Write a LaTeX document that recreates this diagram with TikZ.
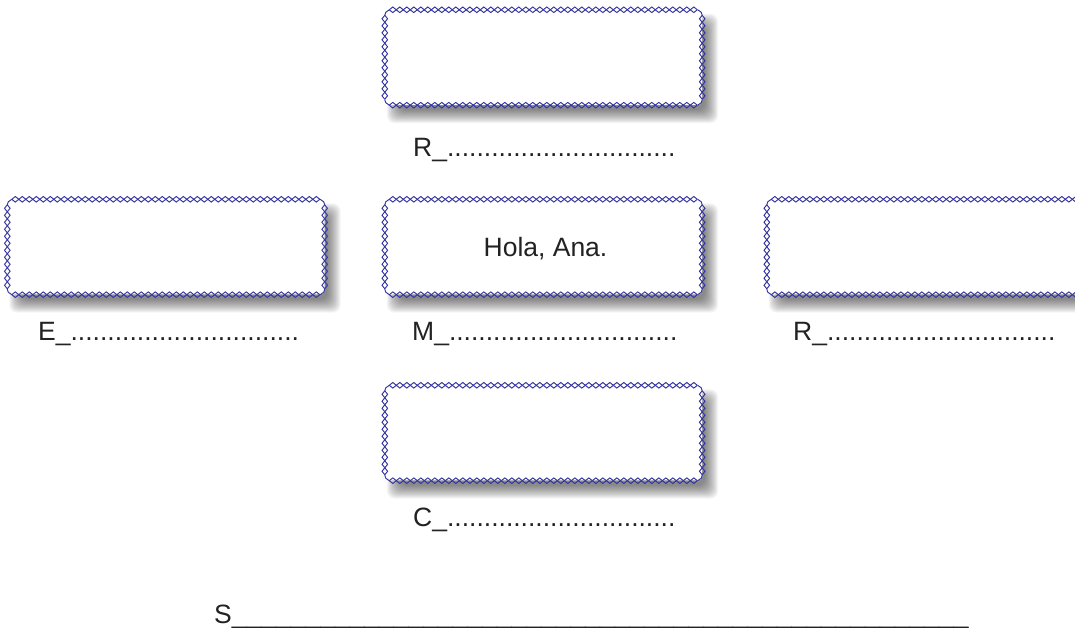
\documentclass[tikz,border=0pt]{standalone}
\usepackage{fontspec}
\setmainfont{Liberation Sans}
\definecolor{bordercol}{HTML}{3535A0}
\definecolor{txtcol}{HTML}{222222}
\pgfdeclarelayer{bg}
\pgfsetlayers{bg,main}
\tikzset{
  card/.style={rectangle, rounded corners=4pt, minimum width=317pt, minimum height=95pt,
    inner sep=0pt, fill=white},
  frame/.style={draw=bordercol, line width=0.95pt},
  shadowlayer/.style={black, opacity=0.045, rounded corners=8pt},
  lbl/.style={inner sep=0pt, anchor=base west, text=txtcol, font=\fontsize{26.5}{30}\selectfont},
}
\newcommand{\dotrow}{...............................}
\newcommand{\cardshadow}[1]{%
  \foreach \k in {-7,...,6}{%
    \fill[shadowlayer] ([shift={(9+\k,-11+\k)}]#1.south west) rectangle ([shift={(9-\k,-11-\k)}]#1.north east);
  }}
\newcommand{\dframe}[1]{%
  \draw[frame] ([xshift=4.5pt]#1.north west) \foreach \i in {1,...,44}{ -- ++(3.5,2.8) -- ++(3.5,-2.8)};
  \draw[frame] ([xshift=4.5pt]#1.north west) \foreach \i in {1,...,44}{ -- ++(3.5,-2.8) -- ++(3.5,2.8)};
  \draw[frame] ([xshift=4.5pt]#1.south west) \foreach \i in {1,...,44}{ -- ++(3.5,2.8) -- ++(3.5,-2.8)};
  \draw[frame] ([xshift=4.5pt]#1.south west) \foreach \i in {1,...,44}{ -- ++(3.5,-2.8) -- ++(3.5,2.8)};
  \draw[frame] ([yshift=-5.5pt]#1.north west) \foreach \i in {1,...,12}{ -- ++(2.8,-3.5) -- ++(-2.8,-3.5)};
  \draw[frame] ([yshift=-5.5pt]#1.north west) \foreach \i in {1,...,12}{ -- ++(-2.8,-3.5) -- ++(2.8,-3.5)};
  \draw[frame] ([yshift=-5.5pt]#1.north east) \foreach \i in {1,...,12}{ -- ++(2.8,-3.5) -- ++(-2.8,-3.5)};
  \draw[frame] ([yshift=-5.5pt]#1.north east) \foreach \i in {1,...,12}{ -- ++(-2.8,-3.5) -- ++(2.8,-3.5)};
  \draw[frame] ([yshift=-5.5pt]#1.north west) -- ++(1,3) -- ([xshift=4.5pt]#1.north west);
  \draw[frame] ([yshift=-5.5pt]#1.north east) -- ++(-1,3) -- ([xshift=-4.5pt]#1.north east);
  \draw[frame] ([yshift=5.5pt]#1.south west) -- ++(1,-3) -- ([xshift=4.5pt]#1.south west);
  \draw[frame] ([yshift=5.5pt]#1.south east) -- ++(-1,-3) -- ([xshift=-4.5pt]#1.south east);
}
\begin{document}
\begin{tikzpicture}[x=1pt,y=1pt]
\useasboundingbox (0,0) rectangle (1075,628);
\node[card] (top) at (543.5,570.5) {};
\node[card] (left) at (166,381) {};
\node[card] (mid) at (543.5,381) {};
\node[card] (right) at (925.5,381) {};
\node[card] (bot) at (543.5,195) {};
\begin{pgfonlayer}{bg}
\cardshadow{top}
\cardshadow{left}
\cardshadow{mid}
\cardshadow{right}
\cardshadow{bot}
\end{pgfonlayer}
\dframe{top}
\dframe{left}
\dframe{mid}
\dframe{right}
\dframe{bot}
\node[lbl, anchor=base] (hola) at (545.5,371) {Hola, Ana.};
\node[lbl] (lr1) at (413,471) {R\_\dotrow};
\node[lbl] (le) at (38,287) {E\_\dotrow};
\node[lbl] (lm) at (412,287) {M\_\dotrow};
\node[lbl] (lr2) at (793,287) {R\_\dotrow};
\node[lbl] (lc) at (413,101) {C\_\dotrow};
\node[lbl] (ls) at (214,4) {S\_\_\_\_\_\_\_\_\_\_\_\_\_\_\_\_\_\_\_\_\_\_\_\_\_\_\_\_\_\_\_\_\_\_\_\_\_\_\_\_\_\_\_\_\_\_\_\_\_\_};
\end{tikzpicture}
\end{document}
